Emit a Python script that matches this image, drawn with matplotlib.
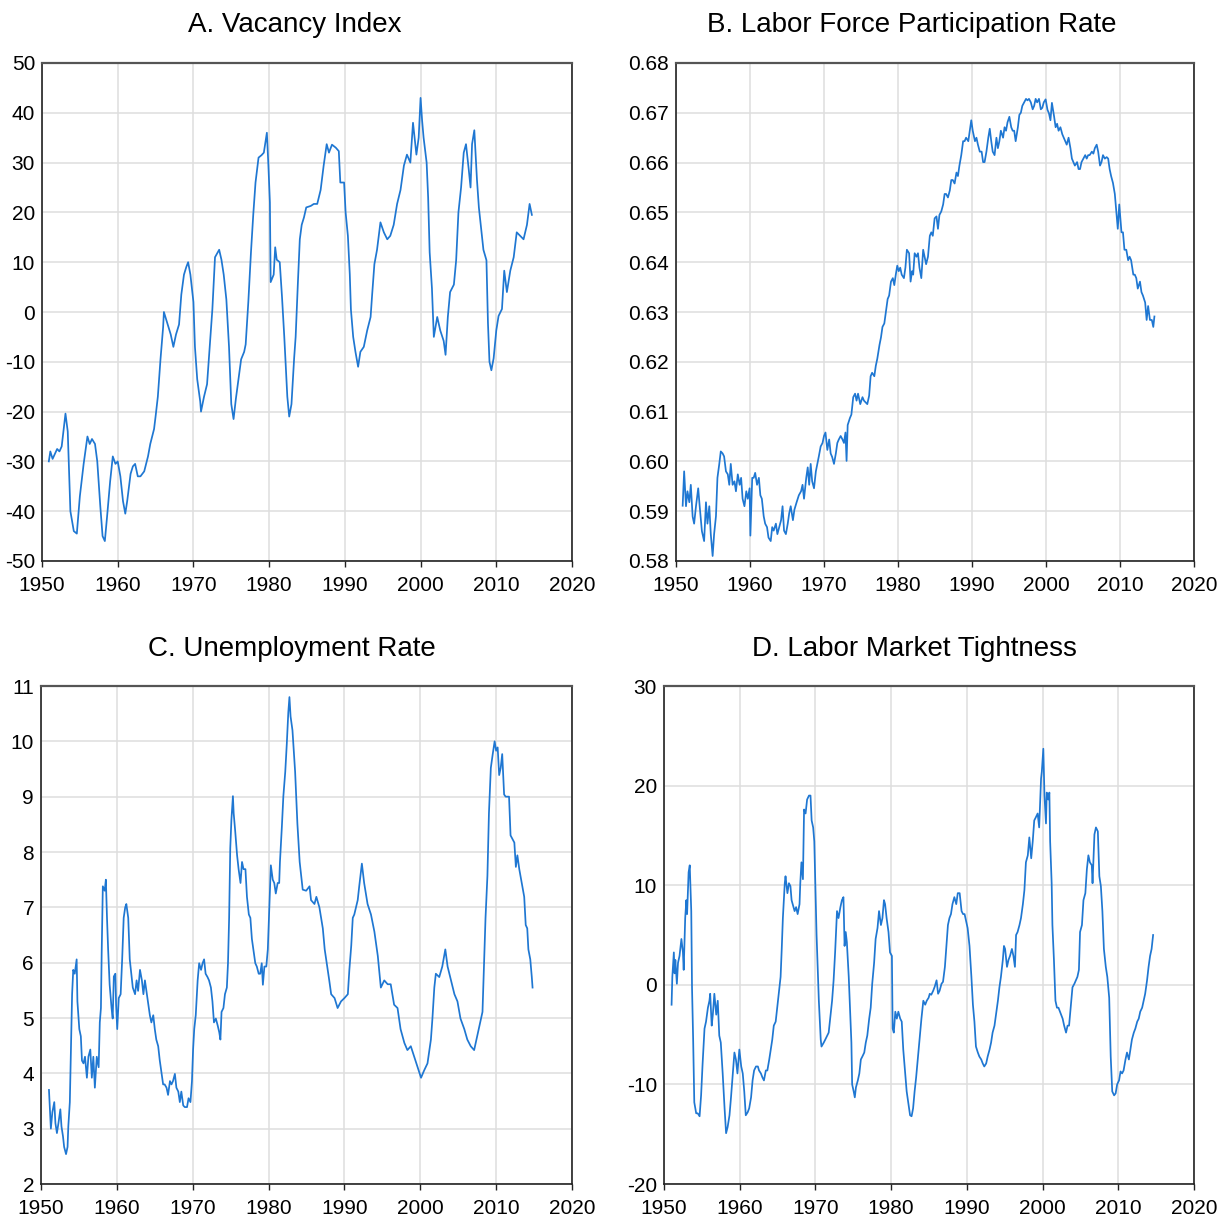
# Labor market panels: vacancy index, participation, unemployment, tightness
# Values (year, value) – monthly detail thinned.

import matplotlib
matplotlib.use("Agg")
import matplotlib.pyplot as plt
from matplotlib.ticker import FormatStrFormatter

# ── data ───────────────────────────────────────────────────────────────────────
VAC_YEARS = [
    1950.9, 1951.1, 1951.4, 1951.7, 1952.0, 1952.3, 1952.6, 1952.9, 1953.1, 1953.4,
    1953.75, 1954.2, 1954.6, 1955.0, 1955.5, 1956.0, 1956.3, 1956.6, 1957.0, 1957.3,
    1957.7, 1958.0, 1958.3, 1958.6, 1959.0, 1959.35, 1959.7, 1960.0, 1960.35, 1960.7,
    1961.0, 1961.25, 1961.7, 1962.0, 1962.3, 1962.65, 1963.0, 1963.5, 1964.0, 1964.3,
    1964.8, 1965.0, 1965.3, 1965.65, 1966.0, 1966.1, 1966.4, 1967.0, 1967.35, 1967.7,
    1968.1, 1968.4, 1968.75, 1969.05, 1969.3, 1969.6, 1970.0, 1970.2, 1970.5, 1970.9,
    1971.0, 1971.4, 1971.8, 1972.1, 1972.5, 1972.85, 1973.4, 1973.7, 1974.0, 1974.35,
    1974.7, 1975.0, 1975.3, 1975.6, 1976.0, 1976.3, 1976.7, 1976.9, 1977.25, 1977.6,
    1977.9, 1978.2, 1978.6, 1979.0, 1979.3, 1979.7, 1979.9, 1980.1, 1980.2, 1980.6,
    1980.8, 1981.0, 1981.4, 1981.7, 1982.0, 1982.4, 1982.65, 1982.95, 1983.3, 1983.5,
    1983.8, 1984.05, 1984.3, 1984.6, 1984.9, 1985.5, 1985.9, 1986.35, 1986.8, 1987.0,
    1987.2, 1987.6, 1987.9, 1988.3, 1988.8, 1989.2, 1989.4, 1989.9, 1990.1, 1990.4,
    1990.65, 1990.8, 1991.1, 1991.4, 1991.75, 1992.05, 1992.5, 1992.95, 1993.4, 1993.6,
    1993.9, 1994.25, 1994.7, 1995.15, 1995.6, 1996.0, 1996.45, 1996.9, 1997.35, 1997.8,
    1998.2, 1998.65, 1999.0, 1999.45, 1999.75, 2000.0, 2000.2, 2000.4, 2000.8, 2001.0,
    2001.2, 2001.5, 2001.75, 2002.2, 2002.6, 2003.05, 2003.3, 2003.6, 2003.9, 2004.4,
    2004.7, 2005.0, 2005.35, 2005.7, 2006.0, 2006.35, 2006.6, 2006.8, 2007.1, 2007.45,
    2007.7, 2008.1, 2008.3, 2008.7, 2008.9, 2009.1, 2009.35, 2009.65, 2010.0, 2010.3,
    2010.75, 2011.05, 2011.4, 2011.85, 2012.3, 2012.7, 2013.15, 2013.6, 2014.05, 2014.4,
    2014.7,
]
VAC = [
    -30, -28, -29.5, -28.5, -27.5, -28, -27, -23, -20.4, -24,
    -40, -44, -44.5, -37, -30.5, -25, -26.5, -25.5, -26.5, -30,
    -39, -45, -46, -41, -34, -29, -30.5, -30, -33, -38,
    -40.5, -38, -32.5, -31, -30.5, -33, -33, -32, -29, -26.5,
    -23.5, -21, -17, -9.5, -3, 0, -1.5, -4.5, -7, -4.5,
    -2.5, 3.5, 7.5, 9, 10, 7.5, 2, -7, -13.5, -18,
    -20, -17, -14.5, -8, 0.5, 11, 12.5, 10.5, 7.5, 2.5,
    -7, -18.5, -21.5, -17.5, -13, -9.5, -8, -6.5, 2, 12,
    19.5, 26, 31, 31.5, 32, 36, 29.5, 22, 6, 7.5,
    13, 10.5, 10, 3, -5, -17, -21, -18.5, -9.3, -5,
    6, 14.6, 17.5, 19, 21, 21.3, 21.7, 21.7, 24.5, 27,
    29.4, 33.7, 32, 33.6, 33, 32.3, 26, 26, 20, 15.3,
    7.6, 0.5, -5, -8, -11, -8, -7, -3.7, -1, 3.4,
    9.6, 12.5, 18, 16, 14.6, 15.3, 17.5, 21.7, 24.5, 29.4,
    31.6, 30, 38, 31.6, 35, 43, 38.5, 35, 30, 23,
    12, 4.8, -5, -1, -3.7, -5.8, -8.6, -1, 4, 5.5,
    10.4, 20, 25, 32, 33.7, 28.8, 25, 33.7, 36.5, 26.5,
    21, 15.3, 12.5, 10.4, -2.2, -10, -11.7, -9.3, -3.7, -0.8,
    0.6, 8.3, 4, 8.3, 11, 16, 15.3, 14.6, 17.5, 21.7,
    19.5,
]

LFPR_YEARS = [
    1950.9, 1951.1, 1951.35, 1951.55, 1951.8, 1952.0, 1952.25, 1952.45, 1952.7, 1953.0,
    1953.2, 1953.5, 1953.8, 1954.05, 1954.25, 1954.5, 1954.7, 1954.95, 1955.15, 1955.4,
    1955.6, 1955.85, 1956.05, 1956.3, 1956.5, 1956.75, 1957.0, 1957.2, 1957.4, 1957.65,
    1957.9, 1958.1, 1958.35, 1958.6, 1958.8, 1959.0, 1959.25, 1959.5, 1959.7, 1959.95,
    1960.05, 1960.3, 1960.5, 1960.7, 1960.95, 1961.2, 1961.4, 1961.6, 1961.85, 1962.05,
    1962.3, 1962.5, 1962.8, 1963.0, 1963.2, 1963.5, 1963.7, 1964.2, 1964.4, 1964.6,
    1964.85, 1965.1, 1965.3, 1965.5, 1965.8, 1966.0, 1966.3, 1966.6, 1966.9, 1967.1,
    1967.3, 1967.6, 1967.8, 1968.0, 1968.2, 1968.4, 1968.65, 1968.9, 1969.1, 1969.3,
    1969.55, 1969.8, 1970.0, 1970.2, 1970.45, 1970.7, 1970.9, 1971.1, 1971.35, 1971.6,
    1971.8, 1972.0, 1972.25, 1972.5, 1972.7, 1972.9, 1973.05, 1973.2, 1973.5, 1973.7,
    1973.95, 1974.2, 1974.4, 1974.6, 1974.9, 1975.2, 1975.4, 1975.85, 1976.1, 1976.3,
    1976.5, 1976.8, 1977.0, 1977.2, 1977.5, 1977.7, 1977.9, 1978.15, 1978.4, 1978.6,
    1978.8, 1979.05, 1979.3, 1979.5, 1979.7, 1979.9, 1980.1, 1980.3, 1980.5, 1980.8,
    1981.0, 1981.2, 1981.5, 1981.7, 1981.9, 1982.05, 1982.25, 1982.5, 1982.7, 1982.9,
    1983.15, 1983.4, 1983.6, 1983.8, 1984.05, 1984.3, 1984.5, 1984.7, 1984.95, 1985.2,
    1985.4, 1985.6, 1985.85, 1986.1, 1986.3, 1986.5, 1986.75, 1987.0, 1987.2, 1987.4,
    1987.65, 1987.9, 1988.1, 1988.3, 1988.55, 1988.8, 1989.0, 1989.2, 1989.5, 1989.7,
    1989.9, 1990.1, 1990.4, 1990.6, 1990.8, 1991.05, 1991.3, 1991.5, 1991.7, 1991.95,
    1992.2, 1992.4, 1992.6, 1992.8, 1993.05, 1993.3, 1993.5, 1993.7, 1993.9, 1994.2,
    1994.4, 1994.6, 1994.8, 1995.05, 1995.3, 1995.5, 1995.7, 1995.9, 1996.2, 1996.4,
    1996.6, 1996.8, 1997.05, 1997.3, 1997.5, 1997.7, 1997.95, 1998.2, 1998.4, 1998.6,
    1998.8, 1999.05, 1999.3, 1999.5, 1999.7, 1999.95, 2000.2, 2000.4, 2000.6, 2000.8,
    2001.1, 2001.3, 2001.5, 2001.7, 2001.95, 2002.2, 2002.4, 2002.6, 2002.8, 2003.05,
    2003.3, 2003.5, 2003.7, 2003.9, 2004.2, 2004.4, 2004.6, 2004.8, 2005.05, 2005.3,
    2005.5, 2005.7, 2005.9, 2006.2, 2006.4, 2006.6, 2006.85, 2007.05, 2007.3, 2007.5,
    2007.7, 2007.95, 2008.2, 2008.4, 2008.6, 2008.8, 2009.05, 2009.3, 2009.5, 2009.7,
    2009.9, 2010.2, 2010.4, 2010.6, 2010.85, 2011.1, 2011.3, 2011.5, 2011.8, 2012.0,
    2012.2, 2012.4, 2012.7, 2012.9, 2013.1, 2013.4, 2013.6, 2013.8, 2014.05, 2014.3,
    2014.5, 2014.65,
]
LFPR = [
    .5911, .598, .591, .594, .5918, .5953, .5889, .5875, .591, .5946,
    .591, .586, .584, .5918, .5875, .591, .5854, .581, .5854, .589,
    .5967, .5995, .602, .6016, .601, .598, .5974, .5953, .5995, .5953,
    .596, .594, .5974, .5953, .5967, .5925, .591, .594, .5925, .5946,
    .5851, .5967, .5967, .5977, .5953, .5967, .5932, .5925, .589, .5875,
    .5868, .5847, .584, .5868, .5861, .5875, .5854, .5882, .591, .5861,
    .5854, .5875, .5896, .591, .5882, .5903, .5918, .5932, .594, .5953,
    .5925, .5967, .5988, .5953, .5995, .596, .5946, .598, .5995, .601,
    .603, .6037, .6051, .6058, .6023, .6044, .6016, .6009, .5995, .6016,
    .6037, .6044, .6051, .6044, .6037, .6058, .6001, .6073, .6087, .6094,
    .6129, .6136, .6122, .6136, .6115, .6129, .6122, .6115, .6132, .6171,
    .6178, .6171, .6192, .6206, .6234, .6249, .627, .6277, .6305, .6326,
    .6333, .6361, .6368, .6354, .6375, .6393, .6382, .6389, .6375, .6368,
    .6389, .6425, .6418, .6361, .6382, .6375, .6418, .6411, .6418, .6389,
    .6368, .6425, .6411, .6396, .6411, .6453, .646, .6453, .6488, .6492,
    .6467, .6495, .6502, .6516, .6537, .6537, .653, .6544, .6565, .6565,
    .6558, .658, .6573, .6594, .6615, .6643, .6643, .665, .6643, .6664,
    .6685, .6664, .6643, .665, .6636, .6622, .6622, .6601, .6601, .6622,
    .665, .6668, .6643, .6622, .6615, .665, .6629, .6643, .6664, .665,
    .6671, .6664, .6681, .6692, .6671, .6664, .6664, .6643, .6671, .6696,
    .67, .6714, .6721, .6728, .6725, .6728, .6721, .6707, .6714, .6728,
    .6721, .6728, .6707, .671, .6721, .6727, .6706, .6699, .6685, .672,
    .6692, .6671, .6678, .6664, .6671, .6657, .665, .6643, .6636, .665,
    .6629, .6608, .6601, .6594, .6601, .6587, .6587, .6601, .6608, .6615,
    .6608, .6615, .6615, .6622, .6618, .6629, .6636, .6622, .6594, .6601,
    .6615, .6608, .6611, .6608, .6587, .6573, .6559, .6537, .6502, .6467,
    .6516, .646, .646, .6425, .6425, .6404, .6411, .6404, .6375, .6375,
    .6368, .6347, .6361, .634, .6333, .6319, .6284, .6312, .6284, .6284,
    .627, .6291,
]

UNEMP_YEARS = [
    1951.05, 1951.15, 1951.3, 1951.5, 1951.75, 1951.9, 1952.1, 1952.3, 1952.55, 1952.7,
    1952.9, 1953.05, 1953.3, 1953.5, 1953.6, 1953.8, 1953.95, 1954.1, 1954.25, 1954.45,
    1954.7, 1954.8, 1955.05, 1955.25, 1955.4, 1955.6, 1955.8, 1956.05, 1956.25, 1956.5,
    1956.7, 1956.9, 1957.1, 1957.35, 1957.6, 1957.75, 1957.9, 1958.0, 1958.15, 1958.4,
    1958.55, 1958.7, 1958.85, 1959.05, 1959.3, 1959.45, 1959.6, 1959.8, 1959.9, 1960.05,
    1960.25, 1960.5, 1960.7, 1960.9, 1961.1, 1961.25, 1961.5, 1961.7, 1961.9, 1962.1,
    1962.4, 1962.6, 1962.8, 1963.05, 1963.3, 1963.5, 1963.7, 1963.9, 1964.15, 1964.35,
    1964.55, 1964.8, 1965.0, 1965.2, 1965.45, 1965.65, 1965.9, 1966.1, 1966.3, 1966.55,
    1966.75, 1967.0, 1967.2, 1967.4, 1967.65, 1967.85, 1968.1, 1968.3, 1968.5, 1968.75,
    1968.95, 1969.25, 1969.45, 1969.7, 1969.9, 1970.05, 1970.2, 1970.4, 1970.65, 1970.85,
    1971.1, 1971.3, 1971.5, 1971.7, 1971.95, 1972.15, 1972.4, 1972.6, 1972.8, 1973.05,
    1973.3, 1973.5, 1973.65, 1973.8, 1974.05, 1974.25, 1974.5, 1974.65, 1974.8, 1974.95,
    1975.1, 1975.3, 1975.4, 1975.6, 1975.85, 1976.05, 1976.3, 1976.5, 1976.7, 1976.95,
    1977.15, 1977.4, 1977.6, 1977.8, 1978.05, 1978.25, 1978.45, 1978.7, 1978.9, 1979.1,
    1979.25, 1979.45, 1979.7, 1979.9, 1980.1, 1980.3, 1980.55, 1980.75, 1980.95, 1981.2,
    1981.4, 1981.5, 1981.75, 1981.95, 1982.2, 1982.4, 1982.6, 1982.75, 1982.9, 1983.15,
    1983.5, 1983.8, 1984.1, 1984.5, 1984.95, 1985.4, 1985.6, 1986.05, 1986.3, 1986.7,
    1987.15, 1987.4, 1987.8, 1988.0, 1988.25, 1988.7, 1989.1, 1989.55, 1990.0, 1990.45,
    1990.65, 1990.9, 1991.1, 1991.3, 1991.75, 1991.95, 1992.3, 1992.6, 1993.05, 1993.5,
    1993.95, 1994.4, 1994.8, 1995.25, 1995.7, 1996.1, 1996.55, 1997.0, 1997.4, 1997.9,
    1998.3, 1998.75, 1999.2, 1999.65, 2000.1, 2000.5, 2000.95, 2001.4, 2001.6, 2001.85,
    2002.05, 2002.5, 2002.9, 2003.3, 2003.6, 2004.05, 2004.5, 2004.9, 2005.3, 2005.8,
    2006.2, 2006.65, 2007.1, 2007.5, 2008.0, 2008.2, 2008.4, 2008.6, 2008.85, 2009.05,
    2009.3, 2009.55, 2009.8, 2010.0, 2010.2, 2010.4, 2010.6, 2010.8, 2011.05, 2011.25,
    2011.7, 2011.9, 2012.4, 2012.6, 2012.8, 2013.05, 2013.3, 2013.7, 2013.9, 2014.1,
    2014.25, 2014.5, 2014.7, 2014.8,
]
UNEMP = [
    3.70, 3.42, 3.0, 3.3, 3.48, 3.1, 2.92, 3.1, 3.35, 3.04,
    2.86, 2.67, 2.54, 2.67, 3.04, 3.48, 4.5, 5.43, 5.87, 5.8,
    6.06, 5.3, 4.8, 4.67, 4.23, 4.18, 4.3, 3.92, 4.3, 4.43,
    3.92, 4.3, 3.74, 4.3, 4.11, 4.92, 5.18, 6.18, 7.38, 7.3,
    7.5, 6.81, 6.24, 5.6, 5.18, 4.99, 5.75, 5.8, 5.24, 4.8,
    5.36, 5.43, 6.06, 6.81, 7.0, 7.06, 6.81, 6.06, 5.8, 5.55,
    5.43, 5.68, 5.49, 5.87, 5.68, 5.43, 5.68, 5.49, 5.24, 5.05,
    4.92, 5.05, 4.8, 4.61, 4.49, 4.24, 3.99, 3.8, 3.8, 3.74,
    3.61, 3.86, 3.8, 3.86, 3.99, 3.74, 3.67, 3.48, 3.67, 3.42,
    3.39, 3.39, 3.55, 3.48, 3.86, 4.43, 4.8, 5.05, 5.68, 5.99,
    5.87, 5.99, 6.06, 5.8, 5.74, 5.68, 5.55, 5.3, 4.92, 4.99,
    4.86, 4.74, 4.61, 5.11, 5.18, 5.43, 5.55, 5.99, 6.81, 8.07,
    8.58, 9.01, 8.7, 8.38, 7.94, 7.69, 7.44, 7.82, 7.69, 7.69,
    7.19, 6.87, 6.81, 6.43, 6.18, 5.99, 5.93, 5.8, 5.8, 5.99,
    5.6, 5.93, 5.93, 6.24, 7.0, 7.76, 7.5, 7.44, 7.25, 7.44,
    7.44, 7.82, 8.45, 9.01, 9.45, 9.95, 10.52, 10.8, 10.45, 10.2,
    9.45, 8.51, 7.82, 7.32, 7.3, 7.38, 7.13, 7.06, 7.19, 7.0,
    6.62, 6.24, 5.87, 5.68, 5.43, 5.36, 5.18, 5.3, 5.36, 5.43,
    5.87, 6.31, 6.81, 6.87, 7.13, 7.38, 7.79, 7.44, 7.06, 6.87,
    6.56, 6.12, 5.55, 5.68, 5.61, 5.61, 5.24, 5.18, 4.8, 4.55,
    4.42, 4.49, 4.3, 4.11, 3.92, 4.05, 4.18, 4.61, 4.99, 5.55,
    5.8, 5.74, 5.93, 6.24, 5.93, 5.68, 5.43, 5.3, 4.99, 4.8,
    4.61, 4.49, 4.42, 4.67, 4.99, 5.11, 5.99, 6.81, 7.57, 8.7,
    9.52, 9.77, 10.0, 9.83, 9.89, 9.39, 9.52, 9.77, 9.04, 9.0,
    9.0, 8.3, 8.17, 7.73, 7.94, 7.69, 7.5, 7.19, 6.68, 6.62,
    6.24, 6.06, 5.74, 5.55,
]

TIGHT_YEARS = [
    1951.0, 1951.1, 1951.3, 1951.4, 1951.5, 1951.7, 1951.85, 1952.05, 1952.3, 1952.5,
    1952.6, 1952.8, 1952.95, 1953.05, 1953.25, 1953.4, 1953.6, 1953.7, 1953.85, 1954.0,
    1954.25, 1954.45, 1954.7, 1954.9, 1955.1, 1955.35, 1955.55, 1955.8, 1956.0, 1956.1,
    1956.3, 1956.45, 1956.65, 1956.9, 1957.1, 1957.3, 1957.5, 1957.75, 1958.0, 1958.2,
    1958.4, 1958.65, 1958.85, 1959.05, 1959.3, 1959.5, 1959.7, 1959.95, 1960.2, 1960.4,
    1960.6, 1960.8, 1961.05, 1961.25, 1961.5, 1961.7, 1961.9, 1962.15, 1962.4, 1962.55,
    1962.8, 1963.0, 1963.2, 1963.45, 1963.65, 1963.9, 1964.1, 1964.3, 1964.5, 1964.75,
    1964.95, 1965.2, 1965.4, 1965.55, 1965.7, 1965.95, 1966.05, 1966.3, 1966.5, 1966.7,
    1966.85, 1967.0, 1967.25, 1967.45, 1967.65, 1967.9, 1968.0, 1968.15, 1968.35, 1968.5,
    1968.7, 1968.9, 1969.15, 1969.35, 1969.5, 1969.7, 1969.85, 1970.0, 1970.15, 1970.35,
    1970.45, 1970.7, 1970.8, 1971.1, 1971.3, 1971.55, 1971.75, 1972.0, 1972.2, 1972.4,
    1972.6, 1972.85, 1973.05, 1973.3, 1973.5, 1973.7, 1973.85, 1974.0, 1974.15, 1974.4,
    1974.6, 1974.75, 1974.85, 1975.05, 1975.2, 1975.35, 1975.6, 1975.8, 1976.0, 1976.2,
    1976.45, 1976.65, 1976.85, 1977.1, 1977.3, 1977.5, 1977.75, 1977.95, 1978.2, 1978.4,
    1978.65, 1978.85, 1979.05, 1979.2, 1979.4, 1979.65, 1979.85, 1980.1, 1980.2, 1980.35,
    1980.55, 1980.75, 1980.95, 1981.2, 1981.4, 1981.6, 1981.85, 1982.05, 1982.3, 1982.5,
    1982.7, 1982.9, 1983.1, 1983.3, 1983.55, 1983.8, 1984.0, 1984.25, 1984.5, 1984.7,
    1984.95, 1985.1, 1985.3, 1985.55, 1985.75, 1986.0, 1986.2, 1986.4, 1986.65, 1986.85,
    1987.1, 1987.3, 1987.5, 1987.7, 1987.9, 1988.1, 1988.35, 1988.6, 1988.8, 1989.05,
    1989.3, 1989.5, 1989.7, 1989.9, 1990.1, 1990.35, 1990.6, 1990.8, 1991.0, 1991.2,
    1991.45, 1991.65, 1991.9, 1992.1, 1992.3, 1992.55, 1992.75, 1993.0, 1993.2, 1993.4,
    1993.65, 1993.85, 1994.1, 1994.3, 1994.5, 1994.75, 1994.9, 1995.05, 1995.3, 1995.5,
    1995.7, 1995.95, 1996.15, 1996.35, 1996.5, 1996.7, 1996.95, 1997.15, 1997.4, 1997.6,
    1997.8, 1998.05, 1998.25, 1998.5, 1998.7, 1998.9, 1999.1, 1999.35, 1999.55, 1999.8,
    1999.9, 2000.1, 2000.25, 2000.45, 2000.55, 2000.75, 2000.9, 2001.0, 2001.2, 2001.3,
    2001.5, 2001.7, 2001.9, 2002.1, 2002.45, 2002.65, 2002.85, 2003.1, 2003.3, 2003.5,
    2003.75, 2003.95, 2004.2, 2004.4, 2004.6, 2004.8, 2004.95, 2005.2, 2005.4, 2005.65,
    2005.85, 2006.05, 2006.25, 2006.5, 2006.6, 2006.85, 2007.05, 2007.3, 2007.5, 2007.7,
    2007.9, 2008.1, 2008.35, 2008.55, 2008.8, 2009.0, 2009.2, 2009.45, 2009.65, 2009.85,
    2010.1, 2010.3, 2010.5, 2010.7, 2010.95, 2011.15, 2011.4, 2011.6, 2011.8, 2012.05,
    2012.25, 2012.5, 2012.7, 2012.9, 2013.15, 2013.35, 2013.55, 2013.8, 2014.0, 2014.2,
    2014.4, 2014.6,
]
TIGHT = [
    -2.0, 0.8, 3.25, 1.15, 2.5, 0.1, 2.2, 2.9, 4.6, 3.25,
    1.5, 6.7, 8.5, 7.1, 11.3, 12.0, 7.4, -0.25, -5.5, -11.8,
    -12.9, -12.9, -13.2, -11.1, -7.9, -4.4, -3.7, -2.3, -1.6, -0.9,
    -4.1, -3.0, -0.9, -3.0, -1.6, -5.1, -5.8, -8.9, -12.4, -14.9,
    -14.3, -13.1, -11.3, -9.3, -6.8, -7.5, -8.9, -6.5, -8.2, -8.9,
    -10.7, -13.1, -12.8, -12.4, -11.3, -9.6, -8.6, -8.2, -8.2, -8.6,
    -8.9, -9.3, -9.6, -8.6, -8.6, -7.5, -6.5, -5.5, -4.1, -3.7,
    -2.3, -0.6, 0.8, 3.6, 6.7, 10.2, 10.9, 9.2, 10.2, 9.9,
    8.5, 8.1, 7.4, 7.8, 7.1, 8.1, 10.2, 12.3, 10.6, 17.6,
    17.2, 18.6, 19.0, 19.0, 16.5, 15.8, 14.4, 9.5, 5.0, 0.8,
    -1.6, -5.5, -6.2, -5.8, -5.5, -5.1, -4.8, -3.0, -1.6, 0.45,
    3.25, 7.4, 6.7, 7.8, 8.5, 8.8, 3.9, 5.3, 4.3, 0.8,
    -3.0, -5.8, -10.0, -10.7, -11.3, -10.3, -9.6, -8.9, -7.5, -7.2,
    -6.8, -5.8, -5.1, -3.4, -2.3, 0.1, 2.2, 4.6, 5.7, 7.4,
    6.0, 6.7, 8.5, 8.1, 6.7, 5.3, 3.25, 2.9, -4.4, -4.8,
    -2.7, -3.4, -2.7, -3.4, -3.7, -6.5, -8.9, -10.7, -12.0, -13.1,
    -13.2, -12.4, -10.7, -9.3, -7.2, -5.1, -3.4, -1.6, -2.0, -1.6,
    -1.3, -0.9, -1.0, -0.6, -0.2, 0.45, -0.9, -0.6, 0.1, 0.3,
    1.8, 3.9, 6.0, 6.7, 7.1, 8.1, 8.8, 8.1, 9.2, 9.2,
    7.4, 7.1, 7.1, 6.4, 5.7, 3.9, 0.8, -2.0, -3.7, -6.2,
    -6.8, -7.2, -7.5, -7.9, -8.2, -7.9, -7.2, -6.5, -5.8, -4.8,
    -4.1, -3.0, -1.6, -0.25, 0.8, 2.5, 3.9, 3.6, 1.8, 2.5,
    2.9, 3.6, 2.9, 1.8, 5.0, 5.3, 6.0, 6.7, 8.1, 9.5,
    12.3, 13.0, 14.8, 12.7, 14.4, 16.5, 16.8, 17.2, 15.8, 20.7,
    21.4, 23.7, 19.0, 16.2, 19.3, 18.6, 19.3, 14.4, 10.2, 6.0,
    2.5, -1.6, -2.3, -2.3, -3.0, -3.4, -4.1, -4.8, -4.1, -4.1,
    -2.0, -0.25, 0.1, 0.45, 0.8, 1.5, 5.3, 6.0, 8.5, 9.2,
    11.6, 13.0, 12.3, 12.0, 10.2, 15.1, 15.8, 15.4, 10.9, 9.9,
    7.4, 3.6, 1.8, 0.8, -1.3, -7.2, -10.7, -11.1, -10.9, -10.0,
    -9.6, -8.7, -8.9, -8.6, -7.5, -6.8, -7.5, -6.5, -5.5, -4.8,
    -4.4, -3.7, -3.4, -2.7, -2.3, -1.6, -0.9, 0.45, 1.8, 2.9,
    3.6, 5.0,
]

TITLES = [
    "A. Vacancy Index",
    "B. Labor Force Participation Rate",
    "C. Unemployment Rate",
    "D. Labor Market Tightness",
]
X_TICKS = [1950, 1960, 1970, 1980, 1990, 2000, 2010, 2020]
VAC_TICKS = [-50, -40, -30, -20, -10, 0, 10, 20, 30, 40, 50]
LFPR_TICKS = [0.58, 0.59, 0.60, 0.61, 0.62, 0.63, 0.64, 0.65, 0.66, 0.67, 0.68]
UNEMP_TICKS = [2, 3, 4, 5, 6, 7, 8, 9, 10, 11]
TIGHT_TICKS = [-20, -10, 0, 10, 20, 30]

# ── style ──────────────────────────────────────────────────────────────────────
W, H = 1225, 1219
LINE_COLOR = "#1f77d2"
GRID_COLOR = "#dedede"

plt.rcParams["font.family"] = ["Liberation Sans", "DejaVu Sans"]
plt.rcParams["axes.unicode_minus"] = False

fig = plt.figure(figsize=(W / 100, H / 100), dpi=100)


def add_panel(left, top, right, bottom):
    # pixel box -> figure fractions
    return fig.add_axes([left / W, 1 - bottom / H, (right - left) / W, (bottom - top) / H])


def style_panel(ax, years, values, yticks, fmt):
    ax.plot(years, values, color=LINE_COLOR, linewidth=1.25)
    ax.set_xlim(1950, 2020)
    ax.set_ylim(yticks[0], yticks[-1])
    ax.set_xticks(X_TICKS)
    ax.set_yticks(yticks)
    ax.yaxis.set_major_formatter(FormatStrFormatter(fmt))
    ax.grid(True, color=GRID_COLOR, linewidth=1.1)
    ax.set_axisbelow(True)
    ax.tick_params(axis="x", direction="out", length=4, width=1.0, pad=7,
                   labelsize=15, color="#222222")
    ax.tick_params(axis="y", length=0, pad=5, labelsize=15)
    for side in ["left", "bottom", "right"]:
        ax.spines[side].set_color("#222222")
        ax.spines[side].set_linewidth(1.2)
    ax.spines["top"].set_color("#555555")
    ax.spines["top"].set_linewidth(1.6)


panels = [
    ((42, 63, 572, 561), VAC_YEARS, VAC, VAC_TICKS, "%d", (295, 32)),
    ((676, 63, 1194, 561), LFPR_YEARS, LFPR, LFPR_TICKS, "%.2f", (912, 32)),
    ((41, 686, 572, 1184), UNEMP_YEARS, UNEMP, UNEMP_TICKS, "%d", (292, 656)),
    ((664, 686, 1194, 1184), TIGHT_YEARS, TIGHT, TIGHT_TICKS, "%d", (914, 656)),
]

for (box, yrs, vals, yt, fmt, tpos), title in zip(panels, TITLES):
    ax = add_panel(*box)
    style_panel(ax, yrs, vals, yt, fmt)
    fig.text(tpos[0] / W, 1 - tpos[1] / H, title, ha="center", va="baseline",
             fontsize=20)

fig.savefig("out.png", dpi=100)
